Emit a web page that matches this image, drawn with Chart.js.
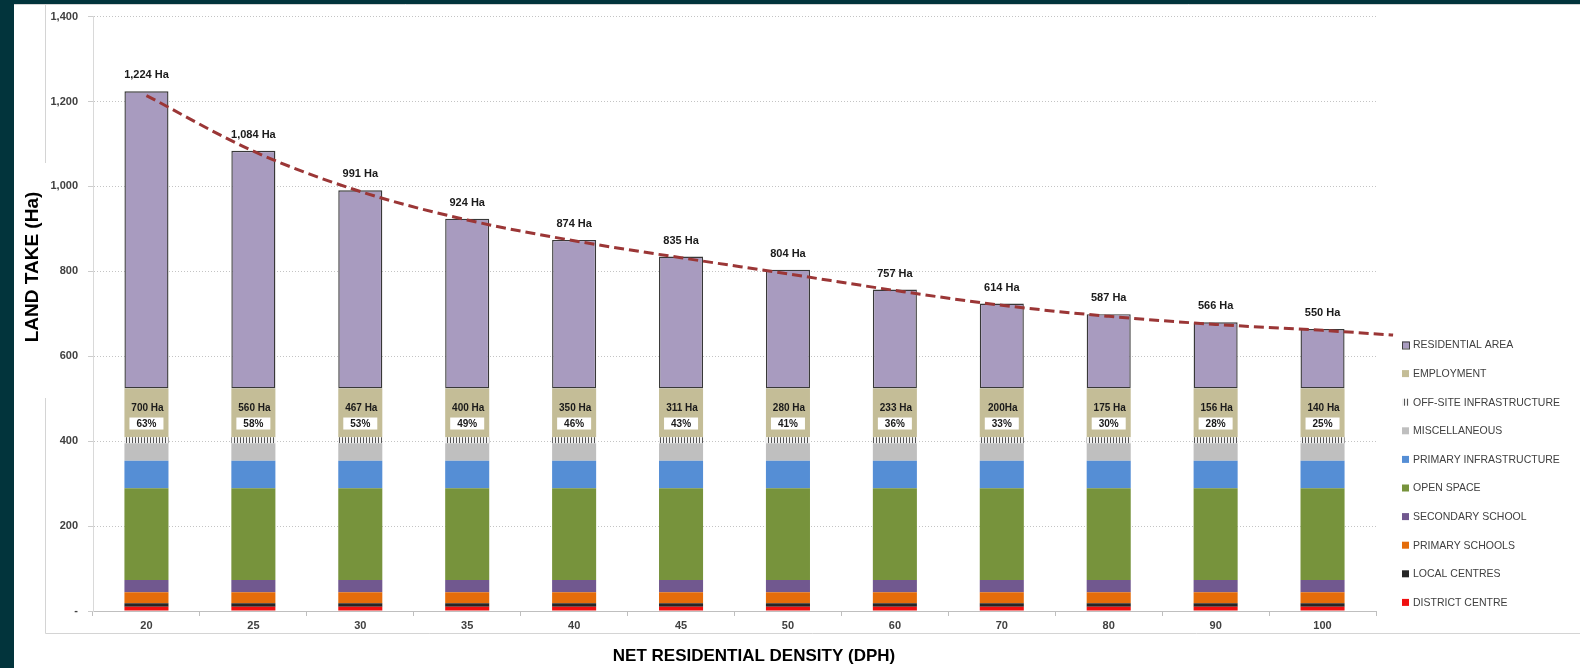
<!DOCTYPE html>
<html>
<head>
<meta charset="utf-8">
<script src="https://cdn.jsdelivr.net/npm/chart.js@4.4.1/dist/chart.umd.min.js"></script>
<style>
  html, body { margin: 0; padding: 0; background: #02343c; overflow: hidden; }
  canvas { display: block; }
</style>
</head>
<body>
<canvas id="landChart" width="1580" height="668"></canvas>
<script>
// densidades (eixo X)
const densities = ['20', '25', '30', '35', '40', '45', '50', '60', '70', '80', '90', '100'];

// componentes da barra empilhada (Ha)
const districtCentre = [10, 10, 10, 10, 10, 10, 10, 10, 10, 10, 10, 10];
const localCentres   = [8, 8, 8, 8, 8, 8, 8, 8, 8, 8, 8, 8];
const primarySchools = [26, 26, 26, 26, 26, 26, 26, 26, 26, 26, 26, 26];
const secondarySchool = [29, 29, 29, 29, 29, 29, 29, 29, 29, 29, 29, 29];
const openSpace      = [216, 216, 216, 216, 216, 216, 216, 216, 216, 216, 216, 216];
const primaryInfra   = [65, 65, 65, 65, 65, 65, 65, 65, 65, 65, 65, 65];
const miscellaneous  = [41, 41, 41, 41, 41, 41, 41, 41, 41, 41, 41, 41];
const offSiteInfra   = [14, 14, 14, 14, 14, 14, 14, 14, 14, 14, 14, 14];
const employment     = [115, 115, 115, 115, 115, 115, 115, 115, 115, 115, 115, 115];
const residential    = [700, 560, 467, 400, 350, 311, 280, 233, 200, 175, 156, 140];

// textos das etiquetas
const topLabels = ['1,224 Ha', '1,084 Ha', '991 Ha', '924 Ha', '874 Ha', '835 Ha', '804 Ha', '757 Ha', '614 Ha', '587 Ha', '566 Ha', '550 Ha'];
const residentialLabels = ['700 Ha', '560 Ha', '467 Ha', '400 Ha', '350 Ha', '311 Ha', '280 Ha', '233 Ha', '200Ha', '175 Ha', '156 Ha', '140 Ha'];
const shareLabels = ['63%', '58%', '53%', '49%', '46%', '43%', '41%', '36%', '33%', '30%', '28%', '25%'];

// linha de tendência (posição em índice de categoria, valor em Ha)
const trendPos    = [0, 1, 2, 3, 4, 5, 6, 7, 8, 9, 10, 11, 11.66];
const trendValues = [1214, 1083, 988, 921, 872, 832, 794, 755, 720, 694, 675, 661, 650];

const FONT = "'Liberation Sans', Arial, sans-serif";
const TEXT = '#404040';

// padrão listrado para OFF-SITE INFRASTRUCTURE
function makeStripes() {
    const c = document.createElement('canvas');
    c.width = 3; c.height = 4;
    const g = c.getContext('2d');
    g.fillStyle = '#f2f2f2';
    g.fillRect(0, 0, 3, 4);
    g.fillStyle = '#555555';
    g.fillRect(0, 0, 1, 4);
    return g.createPattern(c, 'repeat');
}
const stripes = makeStripes();

const barSet = (label, data, color, extra) => Object.assign({
    type: 'bar', label: label, data: data, backgroundColor: color,
    borderWidth: 0, grouped: false, barPercentage: 0.412, categoryPercentage: 1,
    stack: 'land', order: 1
}, extra || {});

// fundo, moldura e títulos
const framePlugin = {
    id: 'frame',
    beforeDraw(chart) {
        const ctx = chart.ctx;
        ctx.save();
        ctx.fillStyle = '#02343c';
        ctx.fillRect(0, 0, chart.width, chart.height);
        ctx.fillStyle = '#ffffff';
        ctx.fillRect(14, 4, chart.width - 14, chart.height - 4);
        ctx.strokeStyle = '#d4d4d4';
        ctx.lineWidth = 1;
        ctx.beginPath();
        ctx.moveTo(14, 4.5); ctx.lineTo(chart.width, 4.5);
        ctx.moveTo(45.5, 4); ctx.lineTo(45.5, 163);
        ctx.moveTo(45.5, 398); ctx.lineTo(45.5, 633.5);
        ctx.lineTo(chart.width, 633.5);
        ctx.stroke();
        ctx.restore();
    },
    afterDraw(chart) {
        const ctx = chart.ctx;
        ctx.save();
        ctx.fillStyle = '#000000';
        ctx.textAlign = 'center';
        ctx.textBaseline = 'middle';
        ctx.font = 'bold 17px ' + FONT;
        ctx.fillText('NET RESIDENTIAL DENSITY (DPH)', 754, 656);
        ctx.font = 'bold 19px ' + FONT;
        ctx.translate(33, 267);
        ctx.rotate(-Math.PI / 2);
        ctx.fillText('LAND TAKE (Ha)', 0, 0);
        ctx.restore();

        // legenda (ordem inversa do empilhamento)
        ctx.save();
        ctx.font = '10.5px ' + FONT;
        ctx.textBaseline = 'middle';
        ctx.textAlign = 'left';
        const sets = chart.data.datasets.filter(d => d.type === 'bar').slice().reverse();
        sets.forEach((ds, i) => {
            const y = 345 + i * 28.6;
            ctx.fillStyle = ds.backgroundColor;
            ctx.fillRect(1402, y - 3.5, 7, 7);
            if (ds.borderWidth) {
                ctx.strokeStyle = '#3f3f3f';
                ctx.lineWidth = 1;
                ctx.strokeRect(1402.5, y - 3, 7, 7);
            }
            ctx.fillStyle = TEXT;
            ctx.fillText(ds.label, 1413, y + 0.5);
        });
        ctx.restore();
    }
};

// etiquetas sobre as barras
const labelsPlugin = {
    id: 'barLabels',
    afterDatasetsDraw(chart) {
        const ctx = chart.ctx;
        const resMeta = chart.getDatasetMeta(9);
        ctx.save();
        ctx.textAlign = 'center';
        ctx.textBaseline = 'middle';
        resMeta.data.forEach((el, i) => {
            ctx.fillStyle = '#1a1a1a';
            ctx.font = 'bold 11px ' + FONT;
            ctx.fillText(topLabels[i], el.x, el.y - 16);
            const base = el.base;
            ctx.font = 'bold 10px ' + FONT;
            ctx.fillText(residentialLabels[i], el.x + 1, base + 20);
            ctx.fillStyle = '#ffffff';
            ctx.fillRect(el.x - 17, base + 29, 34, 12);
            ctx.fillStyle = '#1a1a1a';
            ctx.fillText(shareLabels[i], el.x, base + 35.5);
        });
        ctx.restore();
    }
};

new Chart(document.getElementById('landChart'), {
    data: {
        labels: densities,
        datasets: [
            barSet('DISTRICT CENTRE', districtCentre, '#f01010'),
            barSet('LOCAL CENTRES', localCentres, '#262626'),
            barSet('PRIMARY SCHOOLS', primarySchools, '#e46c0a'),
            barSet('SECONDARY SCHOOL', secondarySchool, '#71588f'),
            barSet('OPEN SPACE', openSpace, '#77933c'),
            barSet('PRIMARY INFRASTRUCTURE', primaryInfra, '#558ed5'),
            barSet('MISCELLANEOUS', miscellaneous, '#bfbfbf'),
            barSet('OFF-SITE INFRASTRUCTURE', offSiteInfra, stripes),
            barSet('EMPLOYMENT', employment, '#c4bd97'),
            barSet('RESIDENTIAL AREA', residential, '#a89bbf', {
                borderColor: '#383838', borderWidth: 1.4, borderSkipped: false
            }),
            {
                type: 'line',
                label: 'Trend',
                data: trendPos.map((p, i) => ({ x: p, y: trendValues[i] })),
                xAxisID: 'x2',
                stack: 'trend',
                borderColor: '#9b3636',
                borderWidth: 3,
                borderDash: [10, 5],
                pointRadius: 0,
                cubicInterpolationMode: 'monotone',
                clip: false,
                order: 0
            }
        ]
    },
    options: {
        responsive: false,
        devicePixelRatio: 1,
        animation: false,
        layout: { padding: { left: 0, right: 204, top: 14, bottom: 0 } },
        plugins: {
            legend: { display: false },
            tooltip: { enabled: false }
        },
        scales: {
            x: {
                stacked: true,
                offset: true,
                grid: { drawOnChartArea: false, drawTicks: true, tickLength: 5, color: '#bfbfbf', offset: true },
                border: { display: true, color: '#bfbfbf', width: 1 },
                ticks: { color: TEXT, font: { family: FONT, size: 11, weight: 'bold' }, padding: 3, maxRotation: 0 },
                afterFit(scale) { scale.height = 57; }
            },
            x2: {
                type: 'linear',
                display: false,
                min: -0.5,
                max: 11.5,
                offset: false
            },
            y: {
                stacked: true,
                min: 0,
                max: 1400,
                ticks: {
                    stepSize: 200,
                    color: TEXT,
                    padding: 10,
                    font: { family: FONT, size: 11, weight: 'bold' },
                    callback: v => v === 0 ? '-' : v.toLocaleString('en-US')
                },
                grid: { color: '#c4c4c4', tickLength: 5, tickColor: '#cccccc' },
                border: { display: true, color: '#d9d9d9', width: 1, dash: [1, 2] },
                afterFit(scale) { scale.width = 93; }
            }
        }
    },
    plugins: [framePlugin, labelsPlugin]
});
</script>
</body>
</html>
